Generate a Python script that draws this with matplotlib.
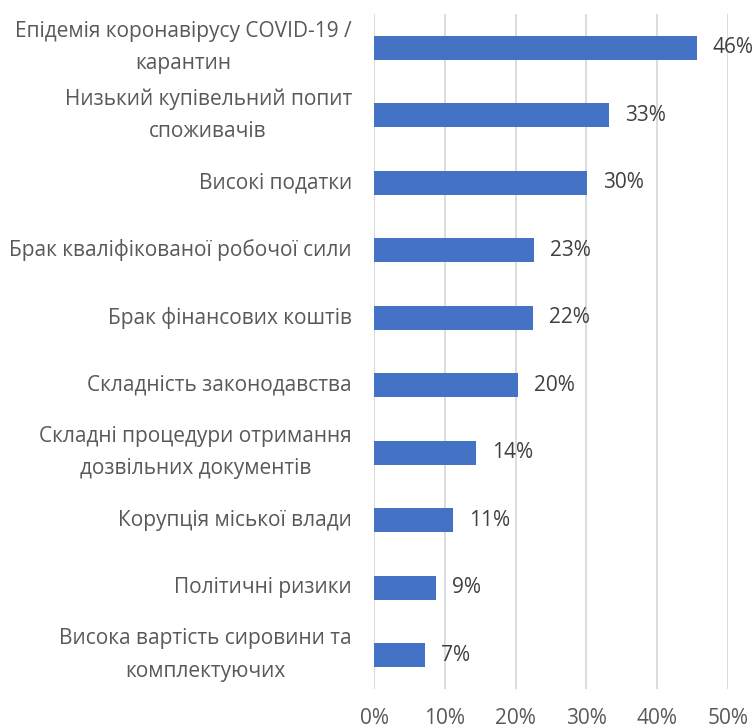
import matplotlib

matplotlib.use("Agg")
import matplotlib.pyplot as plt
from matplotlib.ticker import FuncFormatter

# Categories top to bottom, values in percent
categories = [
    "Епідемія коронавірусу COVID-19 /\nкарантин",
    "Низький купівельний попит\nспоживачів",
    "Високі податки",
    "Брак кваліфікованої робочої сили",
    "Брак фінансових коштів",
    "Складність законодавства",
    "Складні процедури отримання\nдозвільних документів",
    "Корупція міської влади",
    "Політичні ризики",
    "Висока вартість сировини та\nкомплектуючих",
]
values = [45.6, 33.2, 30.1, 22.6, 22.4, 20.4, 14.4, 11.1, 8.8, 7.2]
x_ticks = [0, 10, 20, 30, 40, 50]

plt.rcParams["font.family"] = ["Open Sans", "DejaVu Sans"]

fig = plt.figure(figsize=(7.55, 7.28), dpi=100)
ax = fig.add_axes((0.4954, 0.0536, 0.4689, 0.9272))

ypos = list(range(len(categories)))
ax.barh(ypos, values, height=0.355, color="#4472C4", zorder=3)

for y, v in zip(ypos, values):
    ax.annotate(f"{v:.0f}%", xy=(v, y), xytext=(11.5, 0),
                textcoords="offset points", ha="left", va="center",
                fontsize=15, color="#404040")

ax.set_xlim(0, 50)
ax.set_ylim(len(categories) - 0.5, -0.5)
ax.set_xticks(x_ticks)
ax.xaxis.set_major_formatter(FuncFormatter(lambda v, _: f"{v:.0f}%"))
ax.set_yticks(ypos)
ax.set_yticklabels(categories, multialignment="center", linespacing=1.72,
                   va="center")

ax.grid(axis="x", color="#d9d9d9", lw=1.3, zorder=0)
for s in ax.spines.values():
    s.set_visible(False)
ax.tick_params(axis="both", length=0, labelsize=15, colors="#595959")
ax.tick_params(axis="y", pad=16)
ax.tick_params(axis="x", pad=14)

fig.savefig("out.png", dpi=100)
